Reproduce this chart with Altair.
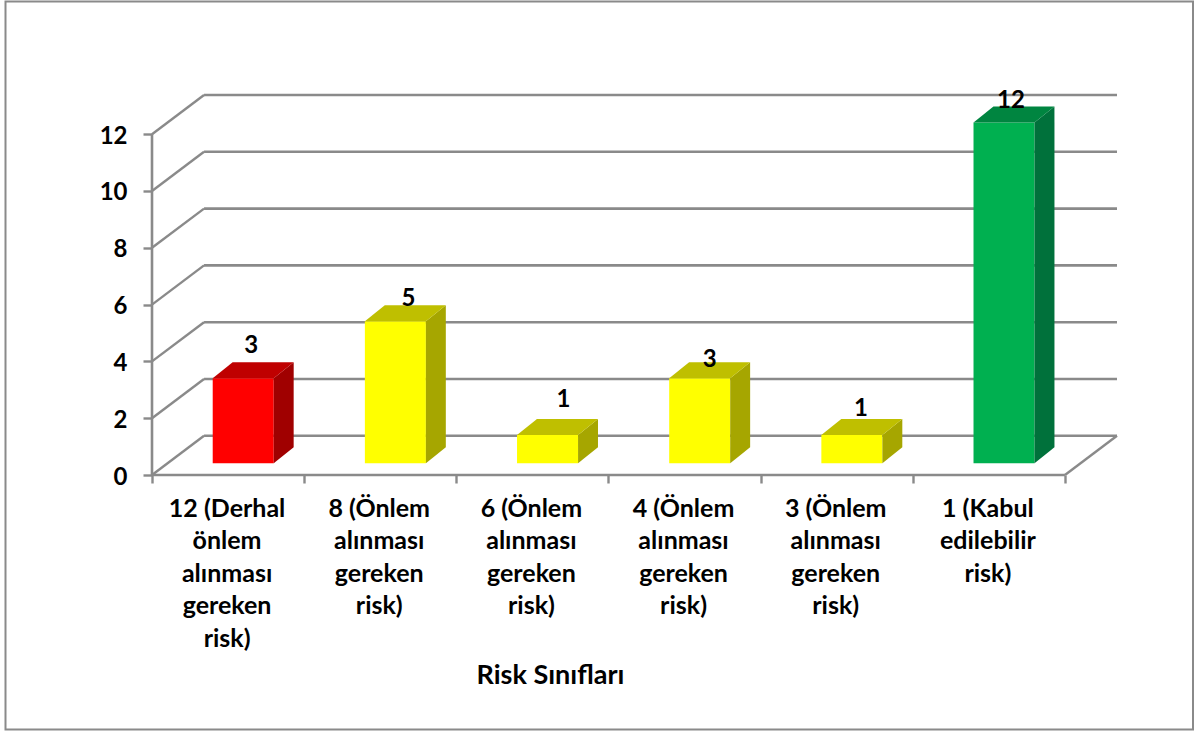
import altair as alt
import pandas as pd

# Chart values
categories = [
    "12 (Derhal\nönlem\nalınması\ngereken\nrisk)",
    "8 (Önlem\nalınması\ngereken\nrisk)",
    "6 (Önlem\nalınması\ngereken\nrisk)",
    "4 (Önlem\nalınması\ngereken\nrisk)",
    "3 (Önlem\nalınması\ngereken\nrisk)",
    "1 (Kabul\nedilebilir\nrisk)",
]
counts = [3, 5, 1, 3, 1, 12]
y_ticks = [0, 2, 4, 6, 8, 10, 12]
x_ticks = [0, 1, 2, 3, 4, 5, 6]
axis_title = "Risk Sınıfları"

# Face colours of each column
front_colors = ["#FF0000", "#FFFF00", "#FFFF00", "#FFFF00", "#FFFF00", "#00B050"]
top_colors = ["#BF0000", "#BFBF00", "#BFBF00", "#BFBF00", "#BFBF00", "#008540"]
side_colors = ["#A00000", "#A6A600", "#A6A600", "#A6A600", "#A6A600", "#00713B"]

# Nudges of the value labels from the front-top-centre of each column (px)
label_dx = [8, 13, 16, 10, 9, 7]
label_dy = [-32, -22, -35, -18, -26, -22]

# Pseudo-3D geometry in data units
WALL_DX, WALL_DY = 0.342, 1.38
BAR_DX, BAR_DY = 0.131, 0.563
BAR_LEFT, BAR_RIGHT, BAR_BASE = 0.399, 0.80, 0.41

GRAY = "#8A8A8A"
FONT = "Lato"
NUM_FS = 24
CAT_FS = 25

x_scale = alt.Scale(domain=[0, 6 + WALL_DX], nice=False, zero=False)
y_scale = alt.Scale(domain=[0, 12 + WALL_DY], nice=False, zero=False)

x_axis = alt.Axis(
    values=x_ticks,
    labels=False,
    domain=False,
    grid=False,
    tickColor=GRAY,
    tickWidth=2.4,
    tickSize=8,
    title=axis_title,
    titleFont=FONT,
    titleFontSize=27,
    titleFontWeight="bold",
    titleColor="#000000",
    titleX=398,
    titleY=200,
    titleBaseline="middle",
    titleAlign="center",
)
y_axis = alt.Axis(
    values=y_ticks,
    title=None,
    domain=False,
    grid=False,
    tickColor=GRAY,
    tickWidth=2.4,
    tickSize=9,
    labelFont=FONT,
    labelFontSize=NUM_FS,
    labelFontWeight="bold",
    labelColor="#000000",
    labelPadding=16,
    labelOffset=2,
)


def X(field):
    return alt.X(field, type="quantitative", scale=x_scale, axis=x_axis)


def Y(field):
    return alt.Y(field, type="quantitative", scale=y_scale, axis=y_axis)


# Wall gridlines, slanted floor and side lines, front axis lines
back_rows = pd.DataFrame(
    {"v": y_ticks, "y": [v + WALL_DY for v in y_ticks], "x0": WALL_DX, "x1": 6 + WALL_DX}
)
back_lines = alt.Chart(back_rows).mark_rule(color=GRAY, strokeWidth=2.6).encode(
    x=X("x0"), x2="x1:Q", y=Y("y")
)

slant_rows = []
for v in y_ticks:
    slant_rows.append({"k": f"v{v}", "x": 0, "y": v})
    slant_rows.append({"k": f"v{v}", "x": WALL_DX, "y": v + WALL_DY})
slant_rows.append({"k": "floor", "x": 6, "y": 0})
slant_rows.append({"k": "floor", "x": 6 + WALL_DX, "y": WALL_DY})
slants = alt.Chart(pd.DataFrame(slant_rows)).mark_line(color=GRAY, strokeWidth=2.4).encode(
    x=X("x"), y=Y("y"), detail="k:N"
)

front_axes = pd.DataFrame({"x": [0, 0], "x2": [0, 6], "y": [0, 0], "y2": [12, 0]})
axis_lines = alt.Chart(front_axes).mark_rule(color=GRAY, strokeWidth=2.6).encode(
    x=X("x"), x2="x2:Q", y=Y("y"), y2="y2:Q"
)

# Column faces
front_rows, side_rows, top_rows = [], [], []
for i, (n, fc, tc, sc) in enumerate(zip(counts, front_colors, top_colors, side_colors)):
    x0, x1 = i + BAR_LEFT, i + BAR_RIGHT
    ytop = BAR_BASE + n
    front_rows.append({"x0": x0, "x1": x1, "y0": BAR_BASE, "y1": ytop, "c": fc})
    for t in (0, 1):
        side_rows.append(
            {"i": i, "x": x1 + t * BAR_DX, "y0": BAR_BASE + t * BAR_DY, "y1": ytop + t * BAR_DY, "c": sc}
        )
        top_rows.append(
            {"i": i, "y": ytop + t * BAR_DY, "x0": x0 + t * BAR_DX, "x1": x1 + t * BAR_DX, "c": tc}
        )

fronts = alt.Chart(pd.DataFrame(front_rows)).mark_rect().encode(
    x=X("x0"), x2="x1:Q", y=Y("y0"), y2="y1:Q", fill=alt.Fill("c:N", scale=None)
)
sides = alt.Chart(pd.DataFrame(side_rows)).mark_area(orient="vertical").encode(
    x=X("x"), y=Y("y0"), y2="y1:Q", detail="i:N", fill=alt.Fill("c:N", scale=None)
)
tops = alt.Chart(pd.DataFrame(top_rows)).mark_area(orient="horizontal").encode(
    y=Y("y"), x=X("x0"), x2="x1:Q", detail="i:N", fill=alt.Fill("c:N", scale=None)
)

# Value labels above the columns
value_labels = [
    alt.Chart(pd.DataFrame({"x": [i + (BAR_LEFT + BAR_RIGHT) / 2], "y": [BAR_BASE + n], "t": [str(n)]}))
    .mark_text(font=FONT, fontSize=NUM_FS, fontWeight="bold", color="#000000", dx=dx, dy=dy)
    .encode(x=X("x"), y=Y("y"), text="t:N")
    for i, (n, dx, dy) in enumerate(zip(counts, label_dx, label_dy))
]

# Wrapped category names under the floor
cat_df = pd.DataFrame({"x": [i + 0.5 for i in range(6)], "y": [0] * 6, "t": categories})
cat_labels = alt.Chart(cat_df).mark_text(
    font=FONT,
    fontSize=CAT_FS,
    fontWeight="bold",
    color="#000000",
    baseline="top",
    lineBreak="\n",
    lineHeight=32.4,
    dy=22,
    dx=-1,
).encode(x=X("x"), y=Y("y"), text="t:N")

# Outer border of the chart
border = alt.Chart(pd.DataFrame({"a": [0]})).mark_rect(
    filled=False, stroke=GRAY, strokeWidth=2
).encode(
    x=alt.value(5.5 - 152),
    x2=alt.value(1193 - 152),
    y=alt.value(1.5 - 95),
    y2=alt.value(729.5 - 95),
)

chart = (
    alt.layer(back_lines, slants, axis_lines, fronts, sides, tops, *value_labels, cat_labels, border)
    .properties(
        width=965,
        height=380,
        autosize="none",
        padding={"left": 152, "top": 95, "right": 78, "bottom": 256},
        background="#FFFFFF",
    )
    .configure_view(stroke=None)
)

chart.save("out.html", embed_options={"renderer": "svg", "actions": False})
